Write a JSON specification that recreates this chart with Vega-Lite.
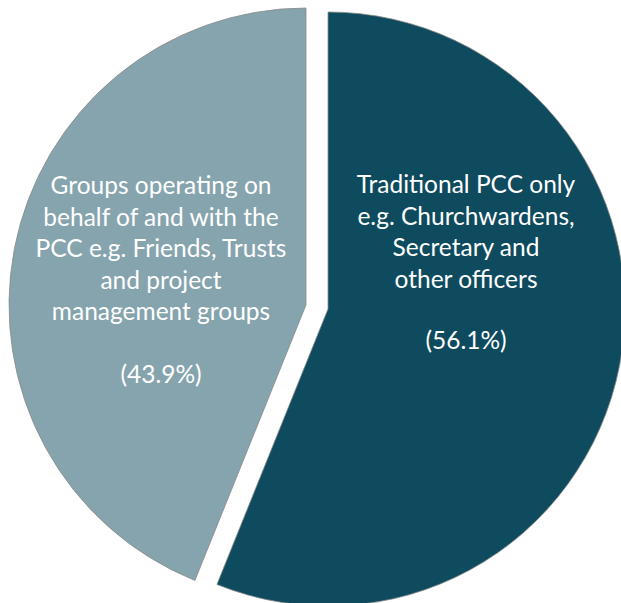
{
  "$schema": "https://vega.github.io/schema/vega-lite/v6.json",
  "width": 621,
  "height": 603,
  "autosize": "none",
  "padding": 0,
  "background": "white",
  "view": {"stroke": null},
  "data": {
    "values": [
      {"category": "Traditional PCC only", "share": 56.1, "label": "Traditional PCC only\ne.g. Churchwardens,\nSecretary and\nother officers", "pct": "(56.1%)"},
      {"category": "Groups operating on behalf of and with the PCC", "share": 43.9, "label": "Groups operating on\nbehalf of and with the\nPCC e.g. Friends, Trusts\nand project\nmanagement groups", "pct": "(43.9%)"}
    ]
  },
  "layer": [
    {
      "mark": {"type": "arc", "outerRadius": 297, "xOffset": 17.5, "yOffset": 7.5, "stroke": "#8a8a8a", "strokeWidth": 0.8},
      "encoding": {
        "theta": {"field": "share", "type": "quantitative", "stack": true},
        "order": {"field": "category", "sort": "descending"},
        "fill": {
          "condition": {"test": "datum.category === 'Traditional PCC only'", "value": "#0e4b5e"},
          "value": "transparent"
        },
        "strokeOpacity": {
          "condition": {"test": "datum.category === 'Traditional PCC only'", "value": 1},
          "value": 0
        }
      }
    },
    {
      "mark": {"type": "arc", "outerRadius": 297, "xOffset": -4.5, "yOffset": 3.5, "stroke": "#8a8a8a", "strokeWidth": 0.8},
      "encoding": {
        "theta": {"field": "share", "type": "quantitative", "stack": true},
        "order": {"field": "category", "sort": "descending"},
        "fill": {
          "condition": {"test": "datum.category !== 'Traditional PCC only'", "value": "#86a4ae"},
          "value": "transparent"
        },
        "strokeOpacity": {
          "condition": {"test": "datum.category !== 'Traditional PCC only'", "value": 1},
          "value": 0
        }
      }
    },
    {
      "transform": [{"filter": "datum.category === 'Traditional PCC only'"}],
      "layer": [
        {
          "mark": {"type": "text", "lineBreak": "\n", "lineHeight": 31.5, "font": "Lato", "fontSize": 24.5, "color": "white", "align": "center", "baseline": "middle", "xOffset": 155.5, "yOffset": -115.5},
          "encoding": {"text": {"field": "label", "type": "nominal"}}
        },
        {
          "mark": {"type": "text", "font": "Lato", "fontSize": 24.5, "color": "white", "align": "center", "baseline": "middle", "xOffset": 155.5, "yOffset": 40.5},
          "encoding": {"text": {"field": "pct", "type": "nominal"}}
        }
      ]
    },
    {
      "transform": [{"filter": "datum.category !== 'Traditional PCC only'"}],
      "layer": [
        {
          "mark": {"type": "text", "lineBreak": "\n", "lineHeight": 31.5, "font": "Lato", "fontSize": 24.5, "color": "white", "align": "center", "baseline": "middle", "xOffset": -149.5, "yOffset": -114.5},
          "encoding": {"text": {"field": "label", "type": "nominal"}}
        },
        {
          "mark": {"type": "text", "font": "Lato", "fontSize": 24.5, "color": "white", "align": "center", "baseline": "middle", "xOffset": -149.5, "yOffset": 74.5},
          "encoding": {"text": {"field": "pct", "type": "nominal"}}
        }
      ]
    }
  ]
}
